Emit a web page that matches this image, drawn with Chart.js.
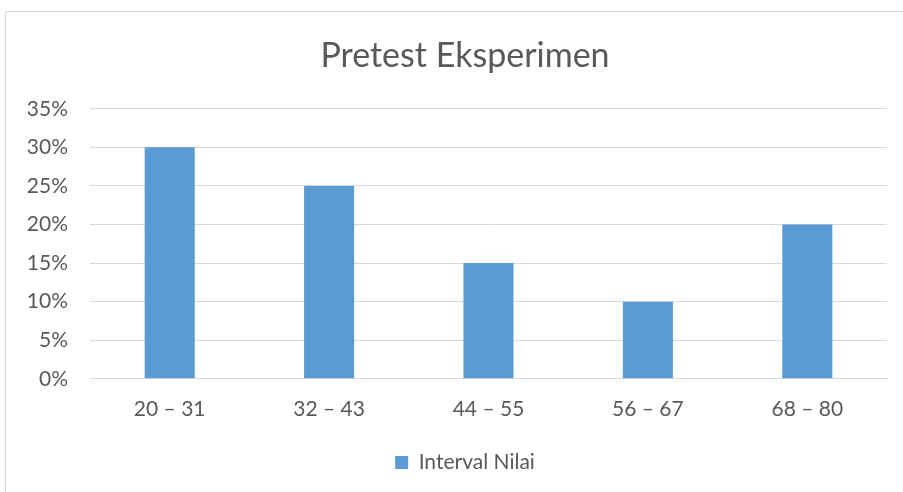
<!DOCTYPE html>
<html>
<head>
<meta charset="utf-8">
<script src="https://cdn.jsdelivr.net/npm/chart.js@4"></script>
<style>
  html, body { margin: 0; padding: 0; background: #fff; overflow: hidden; }
  #frame { position: absolute; left: 5px; top: 11px; width: 930px; height: 500px; border: 1px solid #d9d9d9; box-sizing: border-box; }
  #chart { position: absolute; left: 0; top: 0; }
</style>
</head>
<body>
<div id="frame"></div>
<canvas id="chart" width="930" height="492"></canvas>
<script>
const categories = ["20 – 31", "32 – 43", "44 – 55", "56 – 67", "68 – 80"]
const values = [30, 25, 15, 10, 20]
const seriesName = "Interval Nilai"
const titleText = "Pretest Eksperimen"

const textColor = "#595959"
const gridColor = "#d9d9d9"
const barColor = "#5b9bd5"

// title and legend are centred on the whole frame, not on the plot
const centerBlocks = {
  id: "centerBlocks",
  afterLayout(chart) {
    for (const box of [chart.titleBlock, chart.legend]) {
      if (!box) continue
      box.left = 0
      box.right = chart.width
      box.width = chart.width
    }
  }
}

new Chart(document.getElementById("chart"), {
  type: "bar",
  data: {
    labels: categories,
    datasets: [{
      label: seriesName,
      data: values,
      backgroundColor: barColor,
      borderWidth: 0,
      categoryPercentage: 1,
      barPercentage: 0.314
    }]
  },
  options: {
    responsive: false,
    animation: false,
    layout: { padding: { left: 0, right: 43, top: 0, bottom: 9 } },
    plugins: {
      title: {
        display: true,
        text: titleText,
        color: textColor,
        font: { family: "Lato", size: 34, weight: "normal" },
        padding: { top: 36, bottom: 32 }
      },
      legend: {
        position: "bottom",
        labels: {
          color: textColor,
          font: { family: "Lato", size: 21 },
          boxWidth: 13,
          boxHeight: 13,
          padding: 12
        }
      },
      tooltip: { enabled: false }
    },
    scales: {
      x: {
        grid: { display: false, drawTicks: false },
        border: { color: gridColor },
        ticks: {
          color: textColor,
          padding: 18,
          font: { family: "Lato", size: 21 }
        }
      },
      y: {
        min: 0,
        max: 35,
        afterFit: (scale) => { scale.width = 90 },
        grid: { color: gridColor, drawTicks: false },
        border: { display: false },
        ticks: {
          stepSize: 5,
          padding: 22,
          color: textColor,
          font: { family: "Lato", size: 21 },
          callback: (v) => v + "%"
        }
      }
    }
  },
  plugins: [centerBlocks]
})
</script>
</body>
</html>
